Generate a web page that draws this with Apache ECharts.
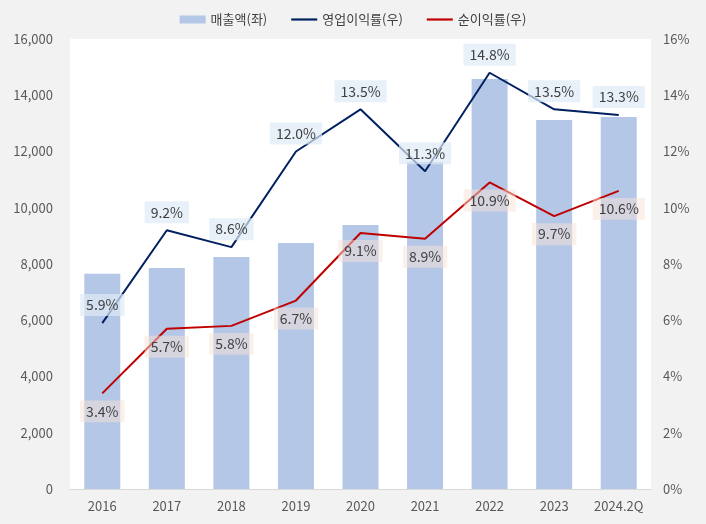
<!DOCTYPE html>
<html>
<head>
<meta charset="utf-8">
<script src="https://cdn.jsdelivr.net/npm/echarts@6/dist/echarts.min.js"></script>
<style>
html,body{margin:0;padding:0;background:#f2f2f2;}
#chart{width:706px;height:524px;}
</style>
</head>
<body>
<div id="chart"></div>
<script>
const categories = ['2016','2017','2018','2019','2020','2021','2022','2023','2024.2Q'];
const sales = [7650, 7860, 8250, 8750, 9390, 11630, 14580, 13120, 13230];
const opMargin = [5.9, 9.2, 8.6, 12.0, 13.5, 11.3, 14.8, 13.5, 13.3];
const netMargin = [3.4, 5.7, 5.8, 6.7, 9.1, 8.9, 10.9, 9.7, 10.6];
const leftTicks = {min: 0, max: 16000, interval: 2000};
const rightTicks = {min: 0, max: 16, interval: 2};

const FONT = '"Noto Sans CJK KR", "Noto Sans", sans-serif';
const LINE_ICON = 'path://M0,0H26V2.2H0Z';
const chart = echarts.init(document.getElementById('chart'));
const labelBase = {
  show: true,
  formatter: p => p.value.toFixed(1) + '%',
  color: '#404040',
  fontSize: 14,
  fontFamily: FONT,
  padding: [4, 6, 4, 6],
  distance: 7
};
chart.setOption({
  backgroundColor: '#f2f2f2',
  textStyle: {fontFamily: FONT},
  legend: {
    top: 8,
    left: 'center',
    itemWidth: 26,
    itemHeight: 8,
    itemGap: 24,
    textStyle: {color: '#404040', fontSize: 13, fontFamily: FONT},
    data: [
      {name: '매출액(좌)', icon: 'rect'},
      {name: '영업이익률(우)', icon: LINE_ICON},
      {name: '순이익률(우)', icon: LINE_ICON}
    ]
  },
  grid: {
    left: 70, right: 55, top: 39, bottom: 35,
    show: true, backgroundColor: '#ffffff', borderWidth: 0
  },
  xAxis: {
    type: 'category',
    data: categories,
    axisTick: {show: false},
    axisLine: {lineStyle: {color: '#d9d9d9', width: 1}},
    axisLabel: {color: '#595959', fontSize: 13, margin: 11, fontFamily: FONT}
  },
  yAxis: [
    {
      type: 'value',
      min: leftTicks.min, max: leftTicks.max, interval: leftTicks.interval,
      splitLine: {show: false},
      axisLine: {show: false},
      axisTick: {show: false},
      axisLabel: {
        color: '#595959', fontSize: 13, margin: 17, fontFamily: FONT,
        formatter: v => v.toLocaleString('en-US')
      }
    },
    {
      type: 'value',
      min: rightTicks.min, max: rightTicks.max, interval: rightTicks.interval,
      splitLine: {show: false},
      axisLine: {show: false},
      axisTick: {show: false},
      axisLabel: {
        color: '#595959', fontSize: 13, margin: 12, fontFamily: FONT,
        formatter: v => v + '%'
      }
    }
  ],
  series: [
    {
      name: '매출액(좌)',
      type: 'bar',
      data: sales,
      barWidth: 36,
      itemStyle: {color: '#b4c7e7'},
      yAxisIndex: 0
    },
    {
      name: '영업이익률(우)',
      type: 'line',
      data: opMargin,
      yAxisIndex: 1,
      symbol: 'circle',
      symbolSize: 0,
      showSymbol: true,
      lineStyle: {color: '#002060', width: 2},
      itemStyle: {color: '#002060'},
      label: Object.assign({}, labelBase, {
        position: 'top',
        backgroundColor: 'rgba(222,235,247,0.7)'
      }),
      z: 3
    },
    {
      name: '순이익률(우)',
      type: 'line',
      data: netMargin,
      yAxisIndex: 1,
      symbol: 'circle',
      symbolSize: 0,
      showSymbol: true,
      lineStyle: {color: '#c00000', width: 2},
      itemStyle: {color: '#c00000'},
      label: Object.assign({}, labelBase, {
        position: 'bottom',
        backgroundColor: 'rgba(248,225,214,0.5)'
      }),
      z: 3
    }
  ]
});
</script>
</body>
</html>
